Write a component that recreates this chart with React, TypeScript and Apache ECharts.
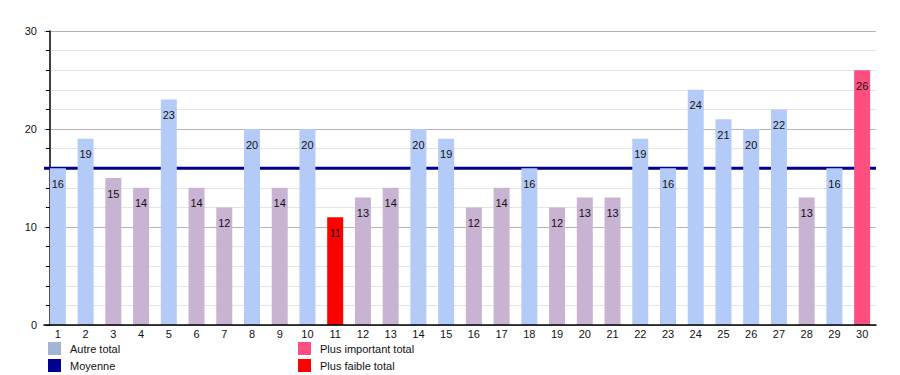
import React, { useEffect, useRef } from "react";
import * as echarts from "echarts";

const categories = ["1","2","3","4","5","6","7","8","9","10","11","12","13","14","15","16","17","18","19","20","21","22","23","24","25","26","27","28","29","30"];
const totals = [16,19,15,14,23,14,12,20,14,20,11,13,14,20,19,12,14,16,12,13,13,19,16,24,21,20,22,13,16,26];
const meanValue = 16;
const yMin = 0;
const yMax = 30;
const yStep = 2;
const yLabelStep = 10;

const legendItems = [
  { label: "Autre total", color: "#a3b5d3", col: 0, row: 0 },
  { label: "Moyenne", color: "#000090", col: 0, row: 1 },
  { label: "Plus important total", color: "#ff4f80", col: 1, row: 0 },
  { label: "Plus faible total", color: "#ff0000", col: 1, row: 1 },
];

const COLOR_ABOVE = "#b5cbf7";
const COLOR_BELOW = "#c9b3d3";
const COLOR_MAX = "#ff4f80";
const COLOR_MIN = "#ff0000";
const FONT = "'Liberation Sans', Arial, sans-serif";

export default function App() {
  const ref = useRef<HTMLDivElement>(null);
  useEffect(() => {
    if (!ref.current) return;
    const chart = echarts.init(ref.current, undefined, { renderer: "svg" });
    const maxV = Math.max(...totals);
    const minV = Math.min(...totals);
    const data = totals.map((v) => ({
      value: v,
      itemStyle: {
        color: v === maxV ? COLOR_MAX : v === minV ? COLOR_MIN : v >= meanValue ? COLOR_ABOVE : COLOR_BELOW,
      },
    }));
    const graphic: any[] = [];
    legendItems.forEach((it) => {
      const x = it.col === 0 ? 48 : 298;
      const y = it.row === 0 ? 342 : 359;
      graphic.push({ type: "rect", left: x, top: y, shape: { width: 13, height: 13 }, style: { fill: it.color } });
      graphic.push({
        type: "text",
        left: x + 22,
        top: y + 1,
        style: { text: it.label, fill: "#111", font: `11px ${FONT}` },
      });
    });
    chart.setOption({
      animation: false,
      textStyle: { fontFamily: FONT },
      grid: { left: 44, right: 24, top: 31, bottom: 50 },
      xAxis: [
        {
          type: "category",
          data: categories,
          boundaryGap: true,
          axisLine: { lineStyle: { color: "#000", width: 1.5 } },
          axisTick: { show: false },
          axisLabel: { color: "#111", fontSize: 11, margin: 3, fontFamily: FONT, interval: 0 },
          splitLine: { show: false },
          z: 5,
        },
        {
          type: "value",
          min: 0,
          max: 1,
          show: false,
        },
      ],
      yAxis: {
        type: "value",
        min: yMin,
        max: yMax,
        interval: yStep,
        offset: -6,
        axisLine: { show: true, lineStyle: { color: "#000", width: 1.5 } },
        axisTick: { show: true, length: 4, lineStyle: { color: "#000" } },
        axisLabel: {
          color: "#111",
          fontSize: 11,
          margin: 13,
          fontFamily: FONT,
          formatter: (v: number) => (v % yLabelStep === 0 ? String(v) : ""),
        },
        splitLine: {
          show: true,
          lineStyle: { color: ["#b4b4b4", "#e4e4e4", "#e4e4e4", "#e4e4e4", "#e4e4e4"], width: 1 },
        },
      },
      series: [
        {
          type: "line",
          name: "Moyenne",
          xAxisIndex: 1,
          data: [[0, meanValue], [1, meanValue]],
          symbol: "none",
          silent: true,
          z: 1,
          lineStyle: { color: "#000090", width: 3 },
        },
        {
          type: "bar",
          name: "Total",
          data,
          barWidth: 16,
          z: 3,
          label: {
            show: true,
            position: "insideTop",
            distance: 10,
            color: "#111",
            fontSize: 11,
            fontFamily: FONT,
          },
        },
      ],
      graphic,
    });
    return () => chart.dispose();
  }, []);
  return <div ref={ref} style={{ width: 900, height: 375, position: "absolute", left: 0, top: 0 }} />;
}
